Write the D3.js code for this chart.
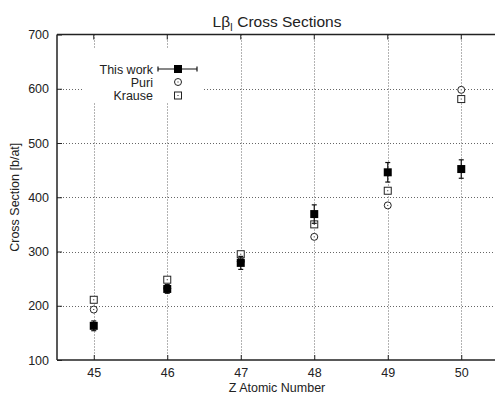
<!DOCTYPE html>
<html><head><meta charset="utf-8">
<script src="https://cdn.jsdelivr.net/npm/d3@7"></script>
<style>body{margin:0;background:#fff}svg{display:block}text{font-family:"Liberation Sans",Arial,sans-serif;fill:#222}</style>
</head><body>
<script>
const zValues = [45, 46, 47, 48, 49, 50];
const thisWork = [163, 231, 279, 369, 446, 452];
const thisWorkErr = [9, 8, 12, 17, 18, 17];
const puri = [193, 232, 282, 327, 385, 598];
const krause = [211, 248, 295, 350, 412, 581];
const yTicks = [100, 200, 300, 400, 500, 600, 700];
const legendLabels = ["This work", "Puri", "Krause"];

const W = 495, H = 396;
const m = {l: 57, t: 34.5, r: -3, b: 36};
const svg = d3.select("body").append("svg").attr("width", W).attr("height", H);
const x = d3.scaleLinear().domain([44.5, 50.5]).range([m.l, W - m.r]);
const y = d3.scaleLinear().domain([100, 700]).range([H - m.b, m.t]);

// grid
const grid = svg.append("g").attr("stroke", "#666").attr("stroke-width", 1).attr("stroke-dasharray", "1,2");
zValues.forEach(v => grid.append("line").attr("x1", Math.round(x(v)) + 0.5).attr("x2", Math.round(x(v)) + 0.5).attr("y1", m.t).attr("y2", H - m.b));
yTicks.slice(1, -1).forEach(v => grid.append("line").attr("y1", Math.round(y(v)) + 0.5).attr("y2", Math.round(y(v)) + 0.5).attr("x1", m.l).attr("x2", W));

// legend background (opaque key)
svg.append("rect").attr("x", 82).attr("y", 48).attr("width", 121).attr("height", 55).attr("fill", "#fff");

// axes
const xAxis = d3.axisBottom(x).tickValues(zValues).tickSize(-5).tickPadding(8).tickFormat(d3.format("d"));
const yAxis = d3.axisLeft(y).tickValues(yTicks).tickSize(-5).tickPadding(8).tickFormat(d3.format("d"));
const gx = svg.append("g").attr("transform", `translate(0,${H - m.b})`).call(xAxis);
const gy = svg.append("g").attr("transform", `translate(${m.l},0)`).call(yAxis);
[gx, gy].forEach(g => {
  g.select(".domain").remove();
  g.selectAll(".tick line").attr("stroke", "#222");
  g.selectAll(".tick text").attr("font-size", 12.5).attr("fill", "#222");
});
// frame
svg.append("line").attr("x1", m.l).attr("x2", W).attr("y1", H - m.b).attr("y2", H - m.b).attr("stroke", "#222").attr("stroke-width", 1.5);
svg.append("line").attr("x1", m.l).attr("x2", W).attr("y1", m.t).attr("y2", m.t).attr("stroke", "#222").attr("stroke-width", 1.5);
svg.append("line").attr("x1", m.l).attr("x2", m.l).attr("y1", m.t).attr("y2", H - m.b).attr("stroke", "#222").attr("stroke-width", 1.5);
// top ticks
zValues.forEach(v => svg.append("line").attr("x1", x(v)).attr("x2", x(v)).attr("y1", m.t).attr("y2", m.t + 5).attr("stroke", "#222"));

// titles
const title = svg.append("text").attr("x", 277).attr("y", 27).attr("text-anchor", "middle").attr("font-size", 15.5);
title.append("tspan").text("Lβ");
title.append("tspan").attr("font-size", 10).attr("dy", 4).text("I");
title.append("tspan").attr("dy", -4).text(" Cross Sections");
svg.append("text").attr("x", 277).attr("y", 392).attr("text-anchor", "middle").attr("font-size", 12.5).text("Z Atomic Number");
svg.append("text").attr("transform", `translate(18.5,${(m.t + H - m.b) / 2}) rotate(-90)`).attr("text-anchor", "middle").attr("font-size", 12.5).text("Cross Section [b/at]");

// symbols
function openCircle(g, cx, cy) {
  g.append("circle").attr("cx", cx).attr("cy", cy).attr("r", 3.5).attr("fill", "#fff").attr("stroke", "#222").attr("stroke-width", 1);
  g.append("rect").attr("x", cx - 0.5).attr("y", cy - 0.5).attr("width", 1).attr("height", 1).attr("fill", "#222");
}
function openSquare(g, cx, cy) {
  g.append("rect").attr("x", cx - 3.5).attr("y", cy - 3.5).attr("width", 7).attr("height", 7).attr("fill", "#fff").attr("stroke", "#222").attr("stroke-width", 1);
  g.append("rect").attr("x", cx - 0.5).attr("y", cy - 0.5).attr("width", 1).attr("height", 1).attr("fill", "#222");
}
const marks = svg.append("g");
zValues.forEach((z, i) => openCircle(marks, x(z), y(puri[i])));
zValues.forEach((z, i) => openSquare(marks, x(z), y(krause[i])));
zValues.forEach((z, i) => {
  const cx = x(z), y1 = y(thisWork[i] + thisWorkErr[i]), y0 = y(thisWork[i] - thisWorkErr[i]);
  marks.append("line").attr("x1", cx).attr("x2", cx).attr("y1", y1).attr("y2", y0).attr("stroke", "#111").attr("stroke-width", 1.2);
  [y1, y0].forEach(yy => marks.append("line").attr("x1", cx - 2.5).attr("x2", cx + 2.5).attr("y1", yy).attr("y2", yy).attr("stroke", "#111").attr("stroke-width", 1.2));
  marks.append("rect").attr("x", cx - 4).attr("y", y(thisWork[i]) - 4).attr("width", 8).attr("height", 8).attr("fill", "#000");
});

// legend
const lg = svg.append("g");
const ly = [69, 82, 95.5];
legendLabels.forEach((t, i) => lg.append("text").attr("x", 153).attr("y", ly[i] + 4.5).attr("text-anchor", "end").attr("font-size", 12.5).text(t));
lg.append("line").attr("x1", 158).attr("x2", 197).attr("y1", ly[0]).attr("y2", ly[0]).attr("stroke", "#111").attr("stroke-width", 1.2);
[158, 197].forEach(xx => lg.append("line").attr("x1", xx).attr("x2", xx).attr("y1", ly[0] - 2.5).attr("y2", ly[0] + 2.5).attr("stroke", "#111").attr("stroke-width", 1.2));
lg.append("rect").attr("x", 174).attr("y", ly[0] - 4).attr("width", 8).attr("height", 8).attr("fill", "#000");
openCircle(lg, 178, ly[1]);
openSquare(lg, 178, ly[2]);
</script>
</body></html>
